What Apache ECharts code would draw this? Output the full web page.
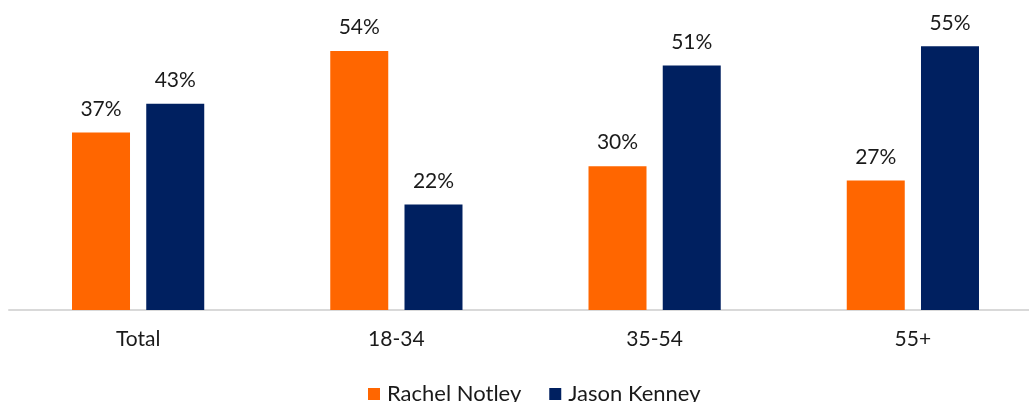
<!DOCTYPE html>
<html>
<head>
<meta charset="utf-8">
<script src="https://cdn.jsdelivr.net/npm/echarts@6/dist/echarts.min.js"></script>
<style>
  html, body { margin: 0; padding: 0; background: #ffffff; }
  #chart { width: 1029px; height: 402px; }
</style>
</head>
<body>
<div id="chart"></div>
<script>
// Vote intention by age group
const categories = ['Total', '18-34', '35-54', '55+'];
const notley = [37, 54, 30, 27];
const kenney = [43, 22, 51, 55];
const seriesNames = ['Rachel Notley', 'Jason Kenney'];

const FONT = 'Lato, "Open Sans", sans-serif';
const TEXT = '#1a1a1a';

const chart = echarts.init(document.getElementById('chart'), null, { renderer: 'canvas' });

const labelStyle = {
  show: true,
  position: 'top',
  distance: 13,
  formatter: p => p.value + '%',
  fontFamily: FONT,
  fontSize: 21,
  color: TEXT
};

chart.setOption({
  animation: false,
  backgroundColor: '#ffffff',
  // the plot runs slightly past the right edge of the canvas
  grid: { left: 9, right: -13, top: 40, bottom: 92, containLabel: false, outerBoundsMode: 'none' },
  legend: {
    data: seriesNames,
    top: 378,
    left: 363,
    itemWidth: 12,
    itemHeight: 12,
    itemGap: 28,
    icon: 'rect',
    textStyle: { fontFamily: FONT, fontSize: 22, color: TEXT, padding: [0, 0, 0, 2] }
  },
  xAxis: {
    type: 'category',
    data: categories,
    axisLine: { show: true, lineStyle: { color: '#d9d9d9', width: 2 } },
    axisTick: { show: false },
    axisLabel: { fontFamily: FONT, fontSize: 21, color: TEXT, margin: 19 }
  },
  yAxis: {
    type: 'value',
    min: 0,
    max: 56.3,
    show: false,
    splitLine: { show: false }
  },
  series: [
    {
      name: seriesNames[0],
      type: 'bar',
      data: notley,
      barWidth: 58,
      barGap: '28%',
      itemStyle: { color: '#FF6600' },
      label: labelStyle
    },
    {
      name: seriesNames[1],
      type: 'bar',
      data: kenney,
      barWidth: 58,
      barGap: '28%',
      itemStyle: { color: '#002060' },
      label: labelStyle
    }
  ]
});
</script>
</body>
</html>
